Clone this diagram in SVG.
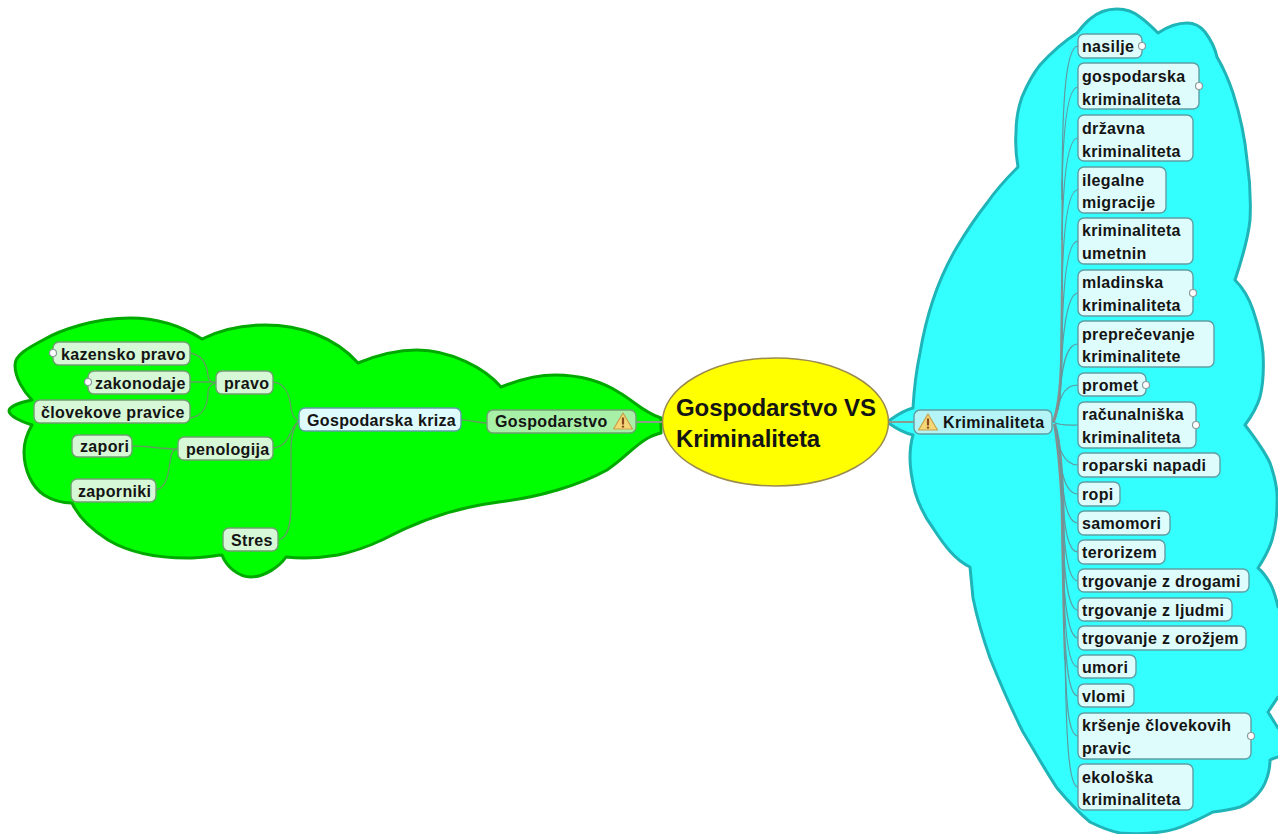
<svg xmlns="http://www.w3.org/2000/svg" width="1278" height="834" viewBox="0 0 1278 834">
<style>
text{font-family:"Liberation Sans",Arial,sans-serif;font-weight:bold;font-size:16px;fill:#141414;letter-spacing:.35px}
.big{font-size:24px;letter-spacing:-.1px}
.c rect{fill:#dffcfd;stroke:#5f9ea3;stroke-width:1.4}
.g rect{fill:#d6f8d6;stroke:#6fa06f;stroke-width:1.4}
.h{fill:#fff;stroke:#8a9a9a;stroke-width:1.2}
.lc{fill:none;stroke:#5f9aa0;stroke-width:1.2}
.lg{fill:none;stroke:#5fa05f;stroke-width:1.3}
.tri{fill:#f6d777;stroke:#c9a04a;stroke-width:1.2;stroke-linejoin:round}
.ex{fill:#8a4a20}
</style>
<defs>
<g id="warn"><path class="tri" d="M0,-9 L9.5,7 H-9.5Z"/><rect class="ex" x="-1.1" y="-4.5" width="2.2" height="7"/><circle class="ex" cx="0" cy="4.6" r="1.2"/></g>
</defs>
<path id="cloud-green" fill="#00ff00" stroke="#00a800" stroke-width="3" stroke-linejoin="round" d="M661,418 C645,413 635,402 620,393 C600,380 578,375 555,375 C535,375 516,381 501,387 C485,368 450,350 417,350 C395,350 375,356 358,363 C335,337 300,325 265,325 C240,325 220,330 202,339 C180,325 155,318 130,318 C95,318 60,330 43,340 C28,348 15,355 15,365 C15,378 24,392 32,400 C22,402 9,406 9,411 C9,416 22,422 32,425 C26,435 24,445 24,452 C24,470 32,487 44,495 C52,500 62,503 72,503 C80,520 97,533 108,540 C130,553 160,558 187,558 C200,558 212,556 222,555 C226,566 238,577 251,577 C265,577 280,566 286,557 C305,559 320,558 338,555 C352,552 367,547 382,540 C410,525 450,508 499,502 C540,497 580,485 607,470 C625,458 635,445 648,438 C652,436 656,434 661,433Z"/>
<path id="cloud-cyan" fill="#33ffff" stroke="#1fb4b8" stroke-width="3" stroke-linejoin="round" d="M890,420 C897,415 905,410 913,408 C914,390 916,372 920,353 C923,335 927,318 933,300 C939,282 947,264 957,247 C966,232 976,217 987,203 C996,190 1007,178 1018,167 C1016,155 1015,145 1016,133 C1016,120 1018,108 1022,97 C1027,85 1032,75 1040,65 C1050,54 1063,42 1077,33 C1082,27 1085,23 1090,19 C1098,12 1107,9 1117,9 C1127,9 1134,12 1140,17 C1147,22 1152,27 1158,33 C1167,27 1177,23 1187,23 C1195,23 1201,27 1205,32 C1211,40 1215,48 1217,57 C1224,69 1229,81 1233,93 C1240,115 1245,138 1247,160 C1250,180 1251,200 1250,220 C1248,240 1241,262 1235,280 C1243,288 1249,298 1253,310 C1258,325 1262,340 1263,353 C1264,370 1263,385 1260,397 C1257,407 1251,417 1245,425 C1255,438 1264,450 1270,463 C1275,477 1278,490 1277,503 C1277,516 1276,527 1272,540 C1269,550 1264,559 1258,568 C1263,572 1267,578 1270,583 C1274,590 1276,598 1278,607 L1290,607 L1290,697 L1278,697 L1268,712 L1278,728 L1290,728 L1290,757 L1278,757 C1274,758 1272,759 1270,760 C1270,768 1268,776 1265,783 C1260,794 1250,803 1240,807 C1230,810 1222,811 1213,812 C1205,816 1198,820 1190,823 C1180,828 1170,831 1160,832 C1147,834 1132,834 1120,833 C1110,831 1100,827 1090,822 C1078,812 1067,800 1057,788 C1045,770 1034,750 1023,732 C1011,708 1000,683 990,658 C983,638 977,618 973,598 C972,588 971,577 970,567 C955,560 944,545 933,528 C924,516 919,505 915,492 C912,480 910,470 910,458 C910,450 911,442 913,435 C905,433 897,429 890,424Z"/>
<g id="connectors">
<path fill="none" stroke="#8c9c8c" stroke-width="1.8" d="M636,422H662M889,422H914"/>
<path class="lg" d="M461,420 C473,420 476,423 488,423"/>
<path class="lg" d="M299,421 C294,419 292,415 291,408 C290,395 285,383 273,382M299,421 C293,425 292,431 288,438 C285,444 281,447 274,448M299,421 C294,426 291,435 291,450 L291,505 C291,525 288,537 279,540"/>
<path class="lg" d="M190,353 C203,355 207,365 208,376 C208,380 212,383 217,383M190,382 H217M190,418 C203,416 208,405 208,392 C208,387 212,383 217,383"/>
<path class="lg" d="M132,446 C150,446 160,449 178,449M156,490 C165,488 168,478 170,462 C171,453 173,449 178,449"/>
<path fill="#8c8c8c" d="M1052,422 C1056,410 1059,395 1060,360 C1061,300 1061.5,250 1061.5,180 L1063,180 C1063,250 1063,300 1062.5,360 C1062,395 1059,412 1055,422Z"/>
<path fill="#8c8c8c" d="M1053,424 C1056,440 1059,470 1060.5,500 C1061.5,550 1062,600 1064,660 L1065,660 C1065,600 1065,550 1064.5,500 C1063,460 1060,435 1056,424Z"/>
<path class="lc" d="M1062,200 C1062,120 1064,46 1078,46"/>
<path class="lc" d="M1062,190 C1063,130 1067,87 1078,87"/>
<path class="lc" d="M1062,240 C1063,180 1067,138 1078,138"/>
<path class="lc" d="M1062,290 C1063,235 1067,190 1078,190"/>
<path class="lc" d="M1062,340 C1063,285 1067,241 1078,241"/>
<path class="lc" d="M1061,380 C1062,335 1067,293 1078,293"/>
<path class="lc" d="M1060,400 C1061,370 1066,344 1078,344"/>
<path class="lc" d="M1058,410 C1060,395 1066,385 1078,385"/>
<path class="lc" d="M1053,422 C1060,426 1068,425 1078,425"/>
<path class="lc" d="M1055,425 C1058,445 1062,465 1078,465"/>
<path class="lc" d="M1057,430 C1060,465 1063,494 1078,494"/>
<path class="lc" d="M1060,460 C1063,495 1066,523 1078,523"/>
<path class="lc" d="M1061,480 C1064,525 1067,552 1078,552"/>
<path class="lc" d="M1062,500 C1064,550 1068,581 1078,581"/>
<path class="lc" d="M1063,530 C1064,580 1069,610 1078,610"/>
<path class="lc" d="M1063,560 C1064,605 1069,638 1078,638"/>
<path class="lc" d="M1064,590 C1065,635 1069,667 1078,667"/>
<path class="lc" d="M1064,620 C1066,665 1069,696 1078,696"/>
<path class="lc" d="M1065,650 C1066,700 1068,736 1078,736"/>
<path class="lc" d="M1065,650 C1066,730 1068,787 1078,787"/>
</g>
<g id="root"><ellipse cx="775.5" cy="422" rx="113" ry="64" fill="#ffff00" stroke="#9a8a50" stroke-width="1.5"/><text class="big" x="676" y="416">Gospodarstvo VS</text><text class="big" x="676" y="447">Kriminaliteta</text></g>
<g id="n-gospodarstvo" class="g"><rect x="487" y="410" width="149" height="23" rx="6" style="fill:#a8f0a8"/><text x="495" y="427">Gospodarstvo</text><use href="#warn" x="623" y="422"/></g>
<g id="n-gospodarska-kriza" class="c"><rect x="299" y="408" width="162" height="23" rx="6"/><text x="307" y="426">Gospodarska kriza</text></g>
<g id="n-pravo" class="g"><rect x="216" y="371" width="57" height="23" rx="6"/><text x="224" y="389">pravo</text></g>
<g id="n-penologija" class="g"><rect x="178" y="437" width="95" height="23" rx="6"/><text x="186" y="455">penologija</text></g>
<g id="n-stres" class="g"><rect x="223" y="528" width="55" height="23" rx="6"/><text x="231" y="546">Stres</text></g>
<g id="n-kazensko" class="g"><rect x="53" y="342" width="137" height="23" rx="6"/><text x="61" y="360">kazensko pravo</text><circle class="h" cx="53" cy="353" r="3.5"/></g>
<g id="n-zakonodaje" class="g"><rect x="88" y="371" width="102" height="23" rx="6"/><text x="95" y="389">zakonodaje</text><circle class="h" cx="88" cy="382" r="3.5"/></g>
<g id="n-clovekove" class="g"><rect x="34" y="400" width="156" height="23" rx="6"/><text x="41" y="418">človekove pravice</text></g>
<g id="n-zapori" class="g"><rect x="72" y="435" width="60" height="22" rx="6"/><text x="80" y="452">zapori</text></g>
<g id="n-zaporniki" class="g"><rect x="71" y="479" width="85" height="23" rx="6"/><text x="78" y="497">zaporniki</text></g>
<g id="n-kriminaliteta" class="c"><rect x="914" y="410" width="138" height="24" rx="6" style="fill:#b4f4f6"/><use href="#warn" x="928" y="423"/><text x="943" y="428">Kriminaliteta</text></g>
<g id="n-nasilje" class="c"><rect x="1078" y="34" width="64" height="24" rx="6"/><text x="1082" y="52">nasilje</text><circle class="h" cx="1142" cy="46" r="3.5"/></g>
<g id="n-gospodarska" class="c"><rect x="1078" y="63" width="121" height="46" rx="6"/><text x="1082" y="82">gospodarska</text><text x="1082" y="105">kriminaliteta</text><circle class="h" cx="1199" cy="86" r="3.5"/></g>
<g id="n-drzavna" class="c"><rect x="1078" y="115" width="115" height="46" rx="6"/><text x="1082" y="134">državna</text><text x="1082" y="157">kriminaliteta</text></g>
<g id="n-ilegalne" class="c"><rect x="1078" y="167" width="88" height="46" rx="6"/><text x="1082" y="186">ilegalne</text><text x="1082" y="208">migracije</text></g>
<g id="n-umetnin" class="c"><rect x="1078" y="218" width="115" height="46" rx="6"/><text x="1082" y="236">kriminaliteta</text><text x="1082" y="259">umetnin</text></g>
<g id="n-mladinska" class="c"><rect x="1078" y="270" width="115" height="46" rx="6"/><text x="1082" y="288">mladinska</text><text x="1082" y="311">kriminaliteta</text><circle class="h" cx="1193" cy="293" r="3.5"/></g>
<g id="n-preprecevanje" class="c"><rect x="1078" y="321" width="136" height="46" rx="6"/><text x="1082" y="340">preprečevanje</text><text x="1082" y="362">kriminalitete</text></g>
<g id="n-promet" class="c"><rect x="1078" y="373" width="68" height="23" rx="6"/><text x="1082" y="391">promet</text><circle class="h" cx="1146" cy="385" r="3.5"/></g>
<g id="n-racunalniska" class="c"><rect x="1078" y="402" width="118" height="46" rx="6"/><text x="1082" y="420">računalniška</text><text x="1082" y="443">kriminaliteta</text><circle class="h" cx="1196" cy="425" r="3.5"/></g>
<g id="n-roparski" class="c"><rect x="1078" y="453" width="142" height="24" rx="6"/><text x="1082" y="471">roparski napadi</text></g>
<g id="n-ropi" class="c"><rect x="1078" y="482" width="42" height="24" rx="6"/><text x="1082" y="500">ropi</text></g>
<g id="n-samomori" class="c"><rect x="1078" y="511" width="92" height="24" rx="6"/><text x="1082" y="529">samomori</text></g>
<g id="n-terorizem" class="c"><rect x="1078" y="540" width="87" height="24" rx="6"/><text x="1082" y="558">terorizem</text></g>
<g id="n-drogami" class="c"><rect x="1078" y="569" width="171" height="23" rx="6"/><text x="1082" y="587">trgovanje z drogami</text></g>
<g id="n-ljudmi" class="c"><rect x="1078" y="598" width="154" height="23" rx="6"/><text x="1082" y="616">trgovanje z ljudmi</text></g>
<g id="n-orozjem" class="c"><rect x="1078" y="626" width="168" height="24" rx="6"/><text x="1082" y="644">trgovanje z orožjem</text></g>
<g id="n-umori" class="c"><rect x="1078" y="655" width="58" height="23" rx="6"/><text x="1082" y="673">umori</text></g>
<g id="n-vlomi" class="c"><rect x="1078" y="684" width="56" height="23" rx="6"/><text x="1082" y="702">vlomi</text></g>
<g id="n-krsenje" class="c"><rect x="1078" y="713" width="173" height="46" rx="6"/><text x="1082" y="731">kršenje človekovih</text><text x="1082" y="754">pravic</text><circle class="h" cx="1251" cy="736" r="3.5"/></g>
<g id="n-ekoloska" class="c"><rect x="1078" y="764" width="115" height="46" rx="6"/><text x="1082" y="783">ekološka</text><text x="1082" y="805">kriminaliteta</text></g>
</svg>
